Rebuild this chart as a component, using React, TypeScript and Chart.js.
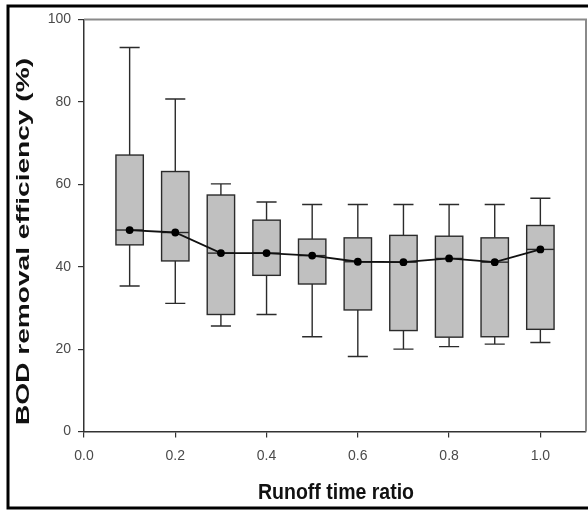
import { useEffect, useRef } from "react";
import { Chart, registerables } from "chart.js";

Chart.register(...registerables);

const FONT = '"Liberation Sans", Arial, Helvetica, sans-serif';

// Runoff time ratio groups and their BOD removal efficiency summaries (%)
const ratios = [0.1, 0.2, 0.3, 0.4, 0.5, 0.6, 0.7, 0.8, 0.9, 1.0];
const whiskerHigh = [93.2, 80.7, 60.1, 55.7, 55.1, 55.1, 55.1, 55.1, 55.1, 56.6];
const boxHigh = [67.1, 63.1, 57.4, 51.3, 46.7, 47.0, 47.6, 47.4, 47.0, 50.0];
const medians = [48.9, 48.3, 43.3, 43.3, 42.7, 41.2, 41.1, 42.0, 41.1, 44.2];
const boxLow = [45.3, 41.4, 28.4, 37.9, 35.8, 29.5, 24.5, 22.9, 23.0, 24.8];
const whiskerLow = [35.3, 31.1, 25.6, 28.4, 23.0, 18.2, 20.0, 20.6, 21.2, 21.6];

const xTickValues = [0, 0.2, 0.4, 0.6, 0.8, 1.0];
const yTickValues = [0, 20, 40, 60, 80, 100];

const X_TITLE = "Runoff time ratio";
const Y_TITLE = "BOD removal efficiency (%)";

const BOX_WIDTH = 0.06; // in x-axis units
const CAP_WIDTH = 0.044;

export default function App() {
  const canvasRef = useRef<HTMLCanvasElement>(null);

  useEffect(() => {
    const canvas = canvasRef.current;
    if (!canvas) return;

    const boxPlugin = {
      id: "boxWhiskers",
      beforeDatasetsDraw(chart: any) {
        const { ctx, scales } = chart;
        const x = scales.x;
        const y = scales.y;
        ctx.save();
        ctx.strokeStyle = "#2b2b2b";
        ctx.lineWidth = 1.4;
        ratios.forEach((r, i) => {
          const cx = x.getPixelForValue(r);
          const bl = x.getPixelForValue(r - BOX_WIDTH / 2);
          const br = x.getPixelForValue(r + BOX_WIDTH / 2);
          const cl = x.getPixelForValue(r - CAP_WIDTH / 2);
          const cr = x.getPixelForValue(r + CAP_WIDTH / 2);
          const yWH = y.getPixelForValue(whiskerHigh[i]);
          const yBH = y.getPixelForValue(boxHigh[i]);
          const yMed = y.getPixelForValue(medians[i]);
          const yBL = y.getPixelForValue(boxLow[i]);
          const yWL = y.getPixelForValue(whiskerLow[i]);

          ctx.beginPath();
          ctx.moveTo(cx, yBH);
          ctx.lineTo(cx, yWH);
          ctx.moveTo(cl, yWH);
          ctx.lineTo(cr, yWH);
          ctx.moveTo(cx, yBL);
          ctx.lineTo(cx, yWL);
          ctx.moveTo(cl, yWL);
          ctx.lineTo(cr, yWL);
          ctx.stroke();

          ctx.fillStyle = "#c0c0c0";
          ctx.fillRect(bl, yBH, br - bl, yBL - yBH);
          ctx.strokeRect(bl, yBH, br - bl, yBL - yBH);

          ctx.beginPath();
          ctx.moveTo(bl, yMed);
          ctx.lineTo(br, yMed);
          ctx.stroke();
        });
        ctx.restore();
      },
    };

    const framePlugin = {
      id: "frameAndTitles",
      afterDraw(chart: any) {
        const { ctx, chartArea } = chart;
        ctx.save();
        // top and right edges of the plot box
        ctx.strokeStyle = "#8a8a8a";
        ctx.lineWidth = 2;
        ctx.beginPath();
        ctx.moveTo(chartArea.left, chartArea.top);
        ctx.lineTo(chartArea.right, chartArea.top);
        ctx.lineTo(chartArea.right, chartArea.bottom);
        ctx.stroke();

        // outer figure frame
        ctx.strokeStyle = "#000";
        ctx.lineWidth = 3;
        ctx.strokeRect(8, 6, 600, 502);

        // axis titles
        ctx.fillStyle = "#111";
        ctx.textAlign = "center";
        ctx.textBaseline = "alphabetic";

        ctx.save();
        ctx.font = `bold 19px ${FONT}`;
        const yw = ctx.measureText(Y_TITLE).width;
        ctx.translate(28.5, 241.5);
        ctx.rotate(-Math.PI / 2);
        ctx.scale(367 / yw, 1);
        ctx.fillText(Y_TITLE, 0, 0);
        ctx.restore();

        ctx.save();
        ctx.font = `bold 22px ${FONT}`;
        const xw = ctx.measureText(X_TITLE).width;
        ctx.translate(336, 499);
        ctx.scale(156 / xw, 1);
        ctx.fillText(X_TITLE, 0, 0);
        ctx.restore();

        ctx.restore();
      },
    };

    const chart = new Chart(canvas, {
      type: "line",
      data: {
        datasets: [
          {
            label: "Median",
            data: ratios.map((r, i) => ({ x: r, y: medians[i] })),
            borderColor: "#111",
            backgroundColor: "#000",
            borderWidth: 1.8,
            pointRadius: 3,
            pointBackgroundColor: "#000",
            pointBorderColor: "#000",
            tension: 0,
          },
        ],
      },
      options: {
        responsive: false,
        animation: false,
        layout: { autoPadding: false, padding: { top: 19.5, right: 2, left: 0, bottom: 0 } },
        plugins: {
          legend: { display: false },
          tooltip: { enabled: false },
          title: { display: false },
        },
        scales: {
          x: {
            type: "linear",
            min: 0,
            max: 1.1,
            afterFit: (s: any) => {
              s.height = 79.5;
              s.paddingLeft = 0;
              s.paddingRight = 0;
            },
            afterBuildTicks: (s: any) => {
              s.ticks = xTickValues.map((v) => ({ value: v }));
            },
            ticks: {
              callback: (v: any) => Number(v).toFixed(1),
              color: "#4a4a4a",
              font: { family: FONT, size: 14 },
              padding: 10,
              maxRotation: 0,
            },
            grid: {
              display: true,
              drawOnChartArea: false,
              drawTicks: true,
              tickLength: 6,
              color: "#333",
              lineWidth: 1.2,
            },
            border: { display: true, color: "#333", width: 1.5 },
          },
          y: {
            type: "linear",
            min: 0,
            max: 100,
            afterFit: (s: any) => {
              s.width = 84;
              s.paddingTop = 0;
              s.paddingBottom = 0;
            },
            afterBuildTicks: (s: any) => {
              s.ticks = yTickValues.map((v) => ({ value: v }));
            },
            ticks: {
              callback: (v: any) => String(v),
              color: "#4a4a4a",
              font: { family: FONT, size: 14 },
              padding: 7,
            },
            grid: {
              display: true,
              drawOnChartArea: false,
              drawTicks: true,
              tickLength: 6,
              color: "#333",
              lineWidth: 1.2,
            },
            border: { display: true, color: "#333", width: 1.5 },
          },
        },
      },
      plugins: [boxPlugin, framePlugin],
    });

    return () => chart.destroy();
  }, []);

  return (
    <div style={{ position: "absolute", left: 0, top: 0, width: 588, height: 511, background: "#fff" }}>
      <canvas ref={canvasRef} width={588} height={511} style={{ display: "block" }} />
    </div>
  );
}
